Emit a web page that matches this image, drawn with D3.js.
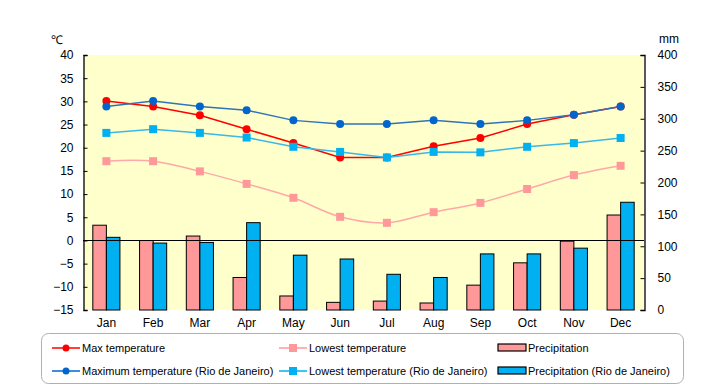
<!DOCTYPE html>
<html><head><meta charset="utf-8">
<script src="https://cdn.jsdelivr.net/npm/d3@7"></script>
<style>body{margin:0;background:#fff}svg{display:block;font-family:"Liberation Sans",Arial,sans-serif}</style>
</head><body><svg id="c" width="720" height="385"></svg>
<script>
const months = ["Jan","Feb","Mar","Apr","May","Jun","Jul","Aug","Sep","Oct","Nov","Dec"];
const maxTemp = [30.1,28.9,27.0,24.0,21.0,17.9,17.9,20.3,22.1,25.1,27.1,28.9];
const minTemp = [17.1,17.1,14.9,12.2,9.2,5.1,3.8,6.1,8.1,11.1,14.1,16.1];
const precip = [133,109,116,51,22,12,14,11,39,74,108,149];
const rioMax = [28.9,30.1,28.9,28.1,25.9,25.1,25.1,25.9,25.1,25.9,27.1,28.9];
const rioMin = [23.2,24.0,23.2,22.2,20.2,19.1,17.9,19.1,19.0,20.2,21.0,22.1];
const rioPrecip = [114,105,106,137,86,80,56,51,88,88,97,169];
const tempTicks = [40,35,30,25,20,15,10,5,0,-5,-10,-15];
const mmTicks = [400,350,300,250,200,150,100,50,0];

const svg = d3.select("#c");
const L=83, R=644, T=55, B=310;
const x = d3.scaleBand().domain(months).range([L,R]).paddingInner(0.42).paddingOuter(0.21);
const xc = d3.scaleBand().domain(months).range([L,R]);
const x1 = d3.scaleBand().domain(["a","b"]).range([0,x.bandwidth()]);
const yT = d3.scaleLinear().domain([-15,40]).range([B,T]);
const yP = d3.scaleLinear().domain([0,400]).range([B,T]);
const cx = m => xc(m)+xc.bandwidth()/2;

svg.append("rect").attr("x",L).attr("y",T).attr("width",R-L).attr("height",B-T).attr("fill","#FFFFCC");

// bars
const g = svg.append("g");
months.forEach((m,i)=>{
  g.append("rect").attr("x",x(m)+x1("a")).attr("y",yP(precip[i])).attr("width",x1.bandwidth()).attr("height",yP(0)-yP(precip[i]))
   .attr("fill","#FF9999").attr("stroke","#000").attr("stroke-width",1);
  g.append("rect").attr("x",x(m)+x1("b")).attr("y",yP(rioPrecip[i])).attr("width",x1.bandwidth()).attr("height",yP(0)-yP(rioPrecip[i]))
   .attr("fill","#00B0F0").attr("stroke","#000").attr("stroke-width",1);
});

// zero line
svg.append("line").attr("x1",L).attr("x2",R).attr("y1",Math.round(yT(0))+0.5).attr("y2",Math.round(yT(0))+0.5).attr("stroke","#000");

// axes
const axL = d3.axisLeft(yT).tickValues(tempTicks).tickSize(-4).tickPadding(10).tickFormat(d=>d<0?"\u2212"+(-d):d);
const gL = svg.append("g").attr("transform",`translate(${L+0.5},0)`).call(axL);
const axR = d3.axisRight(yP).tickValues(mmTicks).tickSize(-4).tickPadding(13);
const gR = svg.append("g").attr("transform",`translate(${R+0.5},0)`).call(axR);
[gL,gR].forEach(a=>{a.select(".domain").attr("stroke","#000").attr("stroke-width",1.3);
  a.selectAll("text").attr("font-size",12).attr("fill","#000").attr("font-family","'Liberation Sans',Arial,sans-serif");});
const axB = d3.axisBottom(xc).tickSize(0).tickPadding(8);
const gB = svg.append("g").attr("transform",`translate(0,${B})`).call(axB);
gB.select(".domain").remove();
gB.selectAll("text").attr("font-size",12).attr("fill","#000").attr("font-family","'Liberation Sans',Arial,sans-serif");

svg.append("text").attr("x",51).attr("y",44).attr("font-size",12).text("\u2103");
svg.append("text").attr("x",659).attr("y",43).attr("font-size",12).text("mm");

// lines
function series(data,color,lineColor,shape,curve){
  const line = d3.line().x((d,i)=>cx(months[i])).y(d=>yT(d)).curve(curve||d3.curveLinear);
  svg.append("path").datum(data).attr("d",line).attr("fill","none").attr("stroke",lineColor).attr("stroke-width",1.5);
  data.forEach((d,i)=>{
    if(shape==="c") svg.append("circle").attr("cx",cx(months[i])).attr("cy",yT(d)).attr("r",4).attr("fill",color);
    else svg.append("rect").attr("x",cx(months[i])-4).attr("y",yT(d)-4).attr("width",8).attr("height",8).attr("fill",color);
  });
}
series(minTemp,"#FF9999","#FFA8A8","s",d3.curveCatmullRom.alpha(0.5));
series(maxTemp,"#FF0000","#FF0000","c");
series(rioMax,"#0066CC","#2f74b8","c");
series(rioMin,"#00B0F0","#3ab8e8","s");

// legend
const lg = svg.append("g");
lg.append("rect").attr("x",41.5).attr("y",333.5).attr("width",642).attr("height",50).attr("rx",7).attr("fill","#fff").attr("stroke","#b0b0b0");
const items = [
  {t:"Max temperature",c:"#FF0000",s:"c",x:52,y:348},
  {t:"Lowest temperature",c:"#FF9999",s:"s",x:279,y:348},
  {t:"Precipitation",c:"#FF9999",s:"b",x:498,y:348},
  {t:"Maximum temperature (Rio de Janeiro)",c:"#0066CC",s:"c",x:52,y:371},
  {t:"Lowest temperature (Rio de Janeiro)",c:"#00B0F0",s:"s",x:279,y:371},
  {t:"Precipitation (Rio de Janeiro)",c:"#00B0F0",s:"b",x:498,y:371}
];
items.forEach(it=>{
  if(it.s==="b"){
    lg.append("rect").attr("x",it.x).attr("y",it.y-4).attr("width",28).attr("height",7).attr("fill",it.c).attr("stroke","#000").attr("stroke-width",1.2);
  } else {
    lg.append("line").attr("x1",it.x).attr("x2",it.x+28).attr("y1",it.y).attr("y2",it.y).attr("stroke",it.c).attr("stroke-width",1.5);
    if(it.s==="c") lg.append("circle").attr("cx",it.x+14).attr("cy",it.y).attr("r",3.5).attr("fill",it.c);
    else lg.append("rect").attr("x",it.x+10).attr("y",it.y-4).attr("width",8).attr("height",8).attr("fill",it.c);
  }
  lg.append("text").attr("x",it.x+30).attr("y",it.y+4).attr("font-size",11).text(it.t);
});
</script></body></html>
